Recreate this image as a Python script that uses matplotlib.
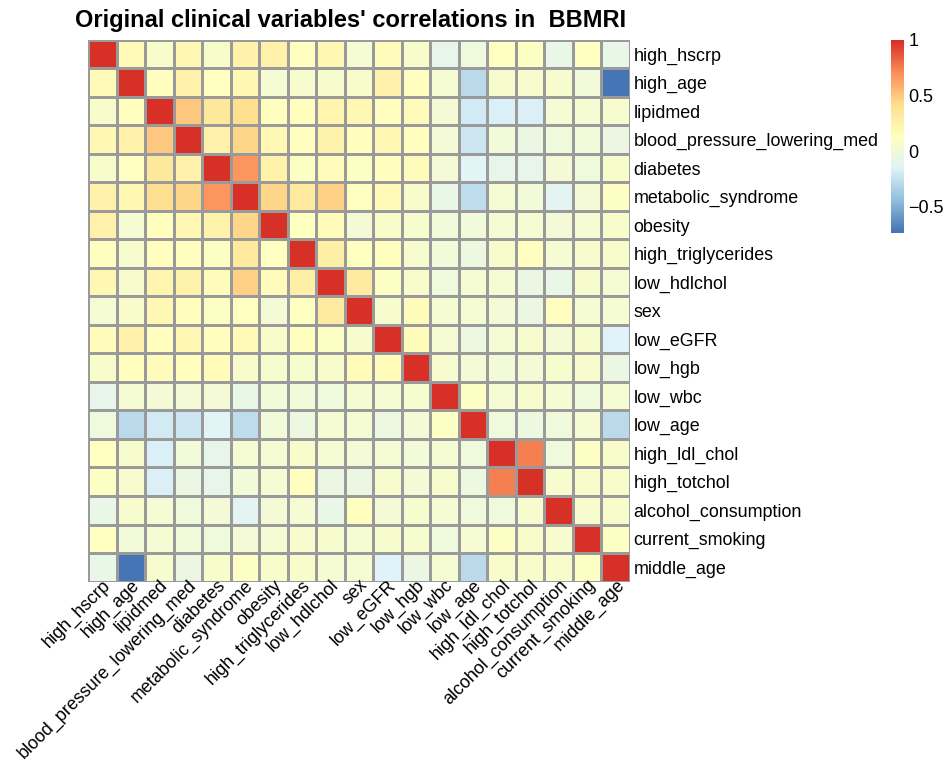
import numpy as np
import matplotlib
matplotlib.use("Agg")
import matplotlib.pyplot as plt
from matplotlib.colors import LinearSegmentedColormap

plt.rcParams['font.family'] = ['Liberation Sans', 'DejaVu Sans']

labels = ["high_hscrp", "high_age", "lipidmed", "blood_pressure_lowering_med",
          "diabetes", "metabolic_syndrome", "obesity", "high_triglycerides",
          "low_hdlchol", "sex", "low_eGFR", "low_hgb", "low_wbc", "low_age",
          "high_ldl_chol", "high_totchol", "alcohol_consumption",
          "current_smoking", "middle_age"]

# lower triangle of the correlation matrix, row by row
lower = [
    [1],
    [0.18, 1],
    [0.08, 0.14, 1],
    [0.20, 0.27, 0.50, 1],
    [0.08, 0.12, 0.35, 0.27, 1],
    [0.26, 0.20, 0.42, 0.45, 0.68, 1],
    [0.27, 0.04, 0.14, 0.20, 0.25, 0.45, 1],
    [0.14, 0.05, 0.14, 0.14, 0.10, 0.33, 0.12, 1],
    [0.19, 0.06, 0.22, 0.25, 0.15, 0.47, 0.15, 0.28, 1],
    [0.04, 0.07, 0.19, 0.14, 0.11, 0.13, 0.02, 0.13, 0.32, 1],
    [0.15, 0.27, 0.14, 0.20, 0.14, 0.18, 0.08, 0.14, 0.11, 0.05, 1],
    [0.08, 0.14, 0.16, 0.14, 0.15, 0.08, 0.05, 0.05, 0.07, 0.15, 0.15, 1],
    [-0.08, 0.03, 0.02, 0.02, 0.02, -0.07, 0.01, 0.00, -0.02, 0.03, 0.03, 0.05, 1],
    [-0.02, -0.30, -0.20, -0.23, -0.13, -0.27, 0.00, -0.04, 0.03, 0.03, -0.03, 0.02, 0.10, 1],
    [0.13, 0.05, -0.17, 0.00, -0.08, 0.03, 0.04, 0.07, 0.03, 0.02, 0.03, 0.01, 0.04, -0.02, 1],
    [0.10, 0.05, -0.17, -0.05, -0.08, 0.00, 0.03, 0.14, -0.05, -0.05, 0.06, 0.02, 0.05, -0.03, 0.75, 1],
    [-0.07, 0.06, 0.04, -0.02, 0.02, -0.12, 0.02, 0.04, -0.07, 0.14, 0.02, 0.05, 0.04, -0.01, -0.02, 0.06, 1],
    [0.13, 0.00, 0.03, 0.00, -0.02, 0.02, 0.03, 0.05, 0.05, 0.03, 0.06, 0.06, -0.02, 0.03, 0.10, 0.08, 0.06, 1],
    [-0.06, -0.72, 0.05, -0.05, 0.07, 0.10, 0.08, 0.08, 0.04, 0.03, -0.15, -0.05, 0.04, -0.30, 0.08, 0.08, 0.07, 0.11, 1],
]

n = len(labels)
corr = np.zeros((n, n))
for i, row in enumerate(lower):
    for j, v in enumerate(row):
        corr[i, j] = v
        corr[j, i] = v

vmin, vmax = -0.735, 1.0
cmap = LinearSegmentedColormap.from_list(
    "rdylbu7", ["#4575B4", "#91BFDB", "#E0F3F8", "#FFFFBF", "#FEE090", "#FC8D59", "#D73027"], N=100)

W, H = 946, 765
fig = plt.figure(figsize=(W / 100, H / 100), dpi=100)
ax = fig.add_axes([88 / W, 1 - 581.5 / H, 542 / W, 541.5 / H])
ax.pcolormesh(corr, cmap=cmap, vmin=vmin, vmax=vmax, edgecolors="#9a9a9a", linewidth=0.9)
ax.set_xlim(0, n)
ax.set_ylim(n, 0)
for s in ax.spines.values():
    s.set_visible(False)

ax.set_xticks(np.arange(n) + 0.5)
ax.set_xticklabels(labels, rotation=45, ha="right", rotation_mode="anchor", fontsize=12.9)
ax.yaxis.tick_right()
ax.set_yticks(np.arange(n) + 0.5)
ax.set_yticklabels(labels, fontsize=12.9)
ax.tick_params(length=0, pad=2.5)
ax.tick_params(axis="x", pad=-3.5)

fig.text(75 / W, 1 - 21 / H, "Original clinical variables' correlations in  BBMRI",
         fontsize=17, fontweight="bold", va="center", ha="left")

# colour legend
cax = fig.add_axes([891 / W, 1 - 233 / H, 13 / W, 193 / H])
grad = np.linspace(vmin, vmax, 100).reshape(-1, 1)
cax.imshow(grad, aspect="auto", origin="lower", cmap=cmap, vmin=vmin, vmax=vmax,
           extent=[0, 1, vmin, vmax])
cax.set_xticks([])
cax.yaxis.tick_right()
cax.set_yticks([-0.5, 0, 0.5, 1])
cax.set_yticklabels(["\u22120.5", "0", "0.5", "1"], fontsize=13)
cax.tick_params(length=0, pad=3)
for s in cax.spines.values():
    s.set_visible(False)

fig.savefig("out.png", dpi=100)
